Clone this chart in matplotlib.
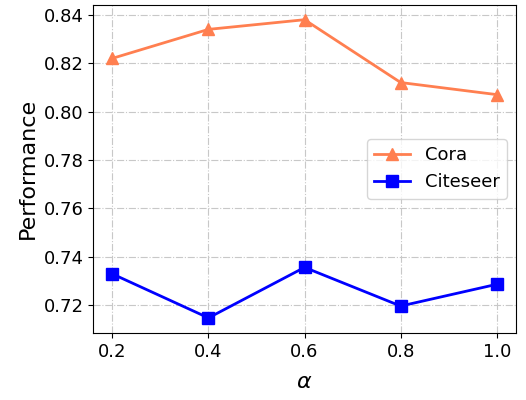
import matplotlib.pyplot as plt

# Data
alpha = [0.2, 0.4, 0.6, 0.8, 1.0]
cora = [0.822, 0.834, 0.838, 0.812, 0.807]
citeseer = [0.7328, 0.7146, 0.7355, 0.7195, 0.7285]

fig = plt.figure(figsize=(5.26, 4), dpi=100)
ax = fig.add_axes([0.177, 0.168, 0.804, 0.82])

ax.plot(alpha, cora, marker='^', markersize=9, linewidth=2, color='#FF7F50', label='Cora')
ax.plot(alpha, citeseer, marker='s', markersize=9, linewidth=2, color='blue', label='Citeseer')

ax.set_xticks(alpha)
ax.tick_params(labelsize=13)
ax.set_xlabel(r'$\alpha$', fontsize=16, labelpad=8)
ax.set_ylabel('Performance', fontsize=16, labelpad=4)
ax.grid(True, linestyle='-.', color='#c8c8c8')
ax.legend(loc='center right', fontsize=13)

fig.savefig('out.png', dpi=100)
